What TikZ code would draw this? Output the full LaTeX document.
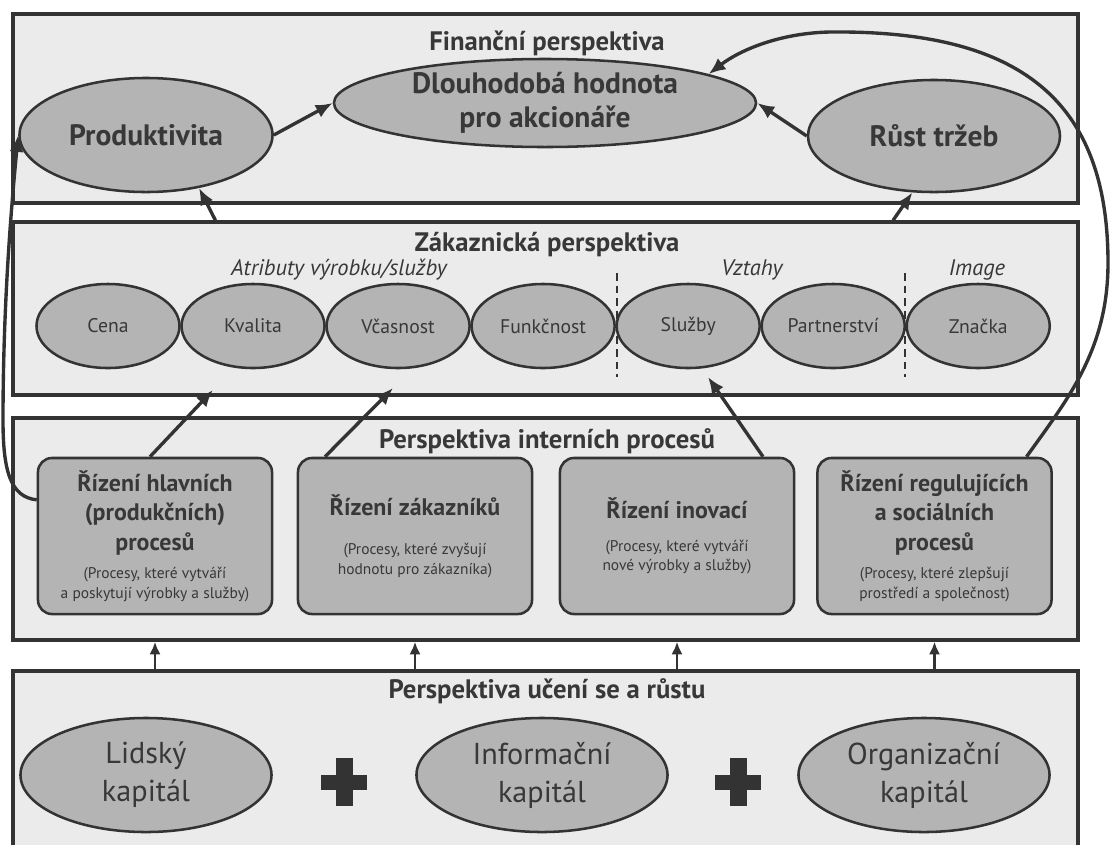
\documentclass[tikz,border=0pt]{standalone}
\usepackage{fontspec}
\setmainfont{PT Sans}
\usepackage{tikz}
\usetikzlibrary{shapes.geometric}
\usetikzlibrary{arrows.meta}
\usetikzlibrary{positioning}
\definecolor{panelgray}{HTML}{EBEBEB}
\definecolor{linegray}{HTML}{333333}
\definecolor{nodegray}{HTML}{B4B4B4}
\definecolor{textgray}{HTML}{383838}
\newcommand{\procnote}[2][6pt]{\par\vspace{#1}{\fontsize{11}{14}\selectfont\mdseries #2\par}}

\begin{document}
\begin{tikzpicture}[x=0.025cm,y=-0.025cm,node distance=3.625cm,
	panel/.style={rectangle, draw=linegray, line width=2.4pt, fill=panelgray, minimum width=26.625cm, inner sep=0pt},
	panel title/.style={font=\fontsize{19}{21}\selectfont\bfseries, text=textgray, anchor=base},
	group label/.style={font=\fontsize{16}{18}\selectfont\itshape, text=textgray, anchor=base},
	big node/.style={ellipse, draw=linegray, line width=1.8pt, fill=nodegray, text=textgray, inner sep=0pt, align=flush center, font=\fontsize{21}{24}\selectfont\bfseries},
	cap node/.style={big node, minimum width=6.275cm, minimum height=2.85cm, font=\fontsize{21.5}{27}\selectfont},
	small node/.style={ellipse, draw=linegray, line width=1.8pt, fill=nodegray, text=textgray, inner sep=0pt, minimum width=3.575cm, minimum height=2.1cm, font=\fontsize{14}{16}\selectfont},
	proc node/.style={rectangle, rounded corners=10pt, draw=linegray, line width=1.8pt, fill=nodegray, text=textgray, minimum width=5.85cm, minimum height=3.9cm, text width=5.7cm, align=flush center, inner sep=0pt, font=\fontsize{17}{21}\selectfont\bfseries},
	sep line/.style={draw=linegray, line width=1.6pt, dash pattern=on 5.5pt off 3.5pt},
	plus bar/.style={fill=linegray},
	link/.style={draw=linegray, line width=2.4pt, -{Latex[length=12pt,width=10pt]}},
	short link/.style={draw=linegray, line width=2pt, -{Latex[length=9pt,width=8pt]}}]
	\useasboundingbox (0,0) rectangle (1111,844);
	
	% Panels
	\node[panel, minimum height=4.725cm] (fin) at (545.5,108.5) {};
	\node[panel, minimum height=4.325cm] (zak) at (545.5,308.5) {};
	\node[panel, minimum height=5.55cm] (int) at (545.5,529) {};
	\node[panel, minimum height=5cm] (uce) at (545.5,771) {};
	
	\node[panel title] (fint) at (547,50) {Finanční perspektiva};
	\node[panel title] (zakt) at (547,251) {Zákaznická perspektiva};
	\node[panel title] (intt) at (547,448) {Perspektiva interních procesů};
	\node[panel title] (ucet) at (547,698) {Perspektiva učení se a růstu};
	
	% Finance
	\node[big node, minimum width=6.325cm, minimum height=2.85cm] (prod) at (146,135) {Produktivita};
	\node[big node, minimum width=10.55cm, minimum height=2.2cm] (dlh) at (545,103) {Dlouhodobá hodnota\\pro akcionáře};
	\node[big node, minimum width=6.3cm, minimum height=2.8cm] (rust) at (934,136) {Růst tržeb};
	
	% Customers
	\node[group label] (atr) at (339,275) {Atributy výrobku/služby};
	\node[group label] (vzt) at (752,275) {Vztahy};
	\node[group label] (img) at (977,275) {Image};
	
	\node[small node] (cena) at (108,326) {Cena};
	\node[small node] (kval) [right of=cena] {Kvalita};
	\node[small node] (vcas) [right of=kval] {Včasnost};
	\node[small node] (funk) [right of=vcas] {Funkčnost};
	\node[small node] (sluz) [right of=funk] {Služby};
	\node[small node] (part) [right of=sluz] {Partnerství};
	\node[small node] (znac) [right of=part] {Značka};
	
	\draw[sep line] (617,273) -- (617,377);
	\draw[sep line] (905,273) -- (905,377);
	
	% Processes
	\node[proc node] (b1) at (155,536) {Řízení hlavních\\(produkčních)\\procesů\procnote{(Procesy, které vytváří\\a poskytují výrobky a služby)}};
	\node[proc node] (b2) at (415,536) {Řízení zákazníků\procnote[14pt]{(Procesy, které zvyšují\\hodnotu pro zákazníka)}};
	\node[proc node] (b3) at (677,536) {Řízení inovací\procnote[9pt]{(Procesy, které vytváří\\nové výrobky a služby)}};
	\node[proc node] (b4) at (934.5,536) {Řízení regulujících\\a sociálních\\procesů\procnote{(Procesy, které zlepšují\\prostředí a společnost)}};
	
	% Learning
	\node[cap node] (lid) at (146,775) {Lidský\\kapitál};
	\node[cap node] (inf) at (542,775) {Informační\\kapitál};
	\node[cap node] (org) at (924,775) {Organizační\\kapitál};
	
	\coordinate (plus1) at (344,782);
	\coordinate (plus2) at (738,782);
	\fill[plus bar] ([shift={(-23,-7.5)}]plus1) rectangle ([shift={(23,7.5)}]plus1);
	\fill[plus bar] ([shift={(-8.5,-24)}]plus1) rectangle ([shift={(8.5,24)}]plus1);
	\fill[plus bar] ([shift={(-23,-7.5)}]plus2) rectangle ([shift={(23,7.5)}]plus2);
	\fill[plus bar] ([shift={(-8.5,-24)}]plus2) rectangle ([shift={(8.5,24)}]plus2);
	
	% Links
	\coordinate (t1) at (213,390);
	\coordinate (t2) at (393,388);
	\coordinate (t3) at (708,377);
	
	\draw[link] (prod.east) -- (dlh.west);
	\draw[link] (rust.west) -- (dlh.east);
	\draw[link] ([xshift=-8.25cm]zak.north) -- (prod.-45);
	\draw[link] ([xshift=8.6875cm]zak.north) -- (rust.-111);
	
	\draw[link] ([xshift=-0.125cm]b1.north) -- (t1);
	\draw[link] ([xshift=-2.25cm]b2.north) -- (t2);
	\draw[link] ([xshift=2.15cm]b3.north) -- (t3);
	
	\draw[link] ([xshift=2.3cm]b4.north) .. controls (1067,400) and (1108,350) .. (1108,263)
		.. controls (1108,100) and (1020,30) .. (830,32)
		.. controls (780,33) and (740,50) .. (dlh.10);
	\draw[link] (b1.163) .. controls (10,497) and (3,470) .. (3,420)
		.. controls (3,300) and (12,200) .. (prod.west);
	
	\draw[short link] (b1 |- uce.north) -- (b1 |- int.south);
	\draw[short link] (b2 |- uce.north) -- (b2 |- int.south);
	\draw[short link] (b3 |- uce.north) -- (b3 |- int.south);
	\draw[short link] (b4 |- uce.north) -- (b4 |- int.south);
	
\end{tikzpicture}
\end{document}
